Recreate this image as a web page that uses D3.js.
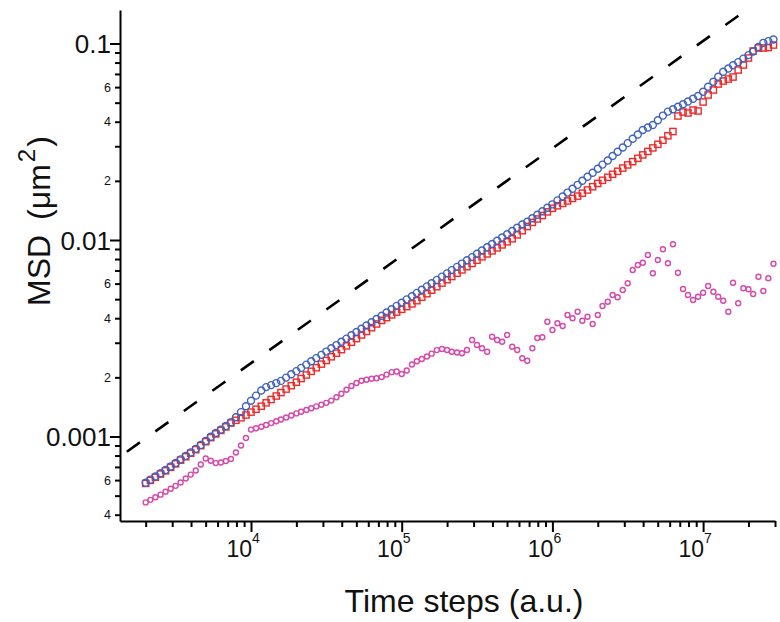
<!DOCTYPE html>
<html><head><meta charset="utf-8">
<script src="https://cdn.jsdelivr.net/npm/d3@7"></script>
<style>
body{margin:0;background:#fff;}
svg text{font-family:Arial,"Liberation Sans",Helvetica,sans-serif;fill:#111;}
</style>
</head><body>
<svg id="chart" width="780" height="622"></svg>
<script>
// ---- data ----
const timeSteps = [
  2000, 2150, 2320, 2510, 2710, 2930, 3160, 3410, 3690, 3980, 4300, 4640, 5010, 5410, 5840, 6310, 6810, 7360, 7940, 8580, 9260,
  1.00e4, 1.08e4, 1.17e4, 1.26e4, 1.36e4, 1.47e4, 1.58e4, 1.71e4, 1.85e4, 2.00e4, 2.15e4, 2.33e4, 2.51e4, 2.71e4, 2.93e4,
  3.16e4, 3.41e4, 3.69e4, 3.98e4, 4.30e4, 4.64e4, 5.01e4, 5.41e4, 5.84e4, 6.31e4, 6.81e4, 7.36e4, 7.94e4, 8.58e4, 9.26e4,
  1.00e5, 1.08e5, 1.17e5, 1.26e5, 1.36e5, 1.47e5, 1.58e5, 1.71e5, 1.85e5, 2.00e5, 2.15e5, 2.33e5, 2.51e5, 2.71e5, 2.93e5,
  3.16e5, 3.41e5, 3.69e5, 3.98e5, 4.30e5, 4.64e5, 5.01e5, 5.41e5, 5.84e5, 6.31e5, 6.81e5, 7.36e5, 7.94e5, 8.58e5, 9.26e5,
  1.00e6, 1.08e6, 1.17e6, 1.26e6, 1.36e6, 1.47e6, 1.58e6, 1.71e6, 1.85e6, 2.00e6, 2.15e6, 2.33e6, 2.51e6, 2.71e6, 2.93e6,
  3.16e6, 3.41e6, 3.69e6, 3.98e6, 4.30e6, 4.64e6, 5.01e6, 5.41e6, 5.84e6, 6.31e6, 6.81e6, 7.36e6, 7.94e6, 8.58e6, 9.26e6,
  1.00e7, 1.08e7, 1.17e7, 1.26e7, 1.36e7, 1.47e7, 1.58e7, 1.71e7, 1.85e7, 2.00e7, 2.15e7, 2.33e7, 2.51e7, 2.71e7, 2.93e7
];
const msdBlue = [
  5.82e-4, 6.03e-4, 6.26e-4, 6.50e-4, 6.75e-4, 7.04e-4, 7.33e-4, 7.65e-4, 7.97e-4, 8.30e-4, 8.65e-4,
  9.06e-4, 9.50e-4, 9.97e-4, 1.041e-3, 1.084e-3, 1.130e-3, 1.183e-3, 1.254e-3, 1.331e-3, 1.425e-3,
  1.519e-3, 1.615e-3, 1.714e-3, 1.784e-3, 1.826e-3, 1.870e-3, 1.919e-3, 1.994e-3, 2.073e-3, 2.151e-3,
  2.234e-3, 2.322e-3, 2.414e-3, 2.506e-3, 2.602e-3, 2.705e-3, 2.811e-3, 2.919e-3, 3.033e-3, 3.149e-3,
  3.273e-3, 3.402e-3, 3.532e-3, 3.672e-3, 3.813e-3, 3.963e-3, 4.119e-3, 4.276e-3, 4.444e-3, 4.620e-3,
  4.796e-3, 4.985e-3, 5.176e-3, 5.380e-3, 5.586e-3, 5.806e-3, 6.027e-3, 6.265e-3, 6.512e-3, 6.761e-3,
  7.028e-3, 7.297e-3, 7.585e-3, 7.884e-3, 8.185e-3, 8.508e-3, 8.843e-3, 9.181e-3, 9.541e-3, 9.906e-3,
  1.030e-2, 1.069e-2, 1.111e-2, 1.155e-2, 1.199e-2, 1.239e-2, 1.291e-2, 1.345e-2, 1.400e-2, 1.459e-2,
  1.519e-2, 1.591e-2, 1.665e-2, 1.743e-2, 1.824e-2, 1.909e-2, 2.001e-2, 2.097e-2, 2.198e-2, 2.303e-2,
  2.419e-2, 2.541e-2, 2.676e-2, 2.811e-2, 2.956e-2, 3.112e-2, 3.273e-2, 3.446e-2, 3.629e-2, 3.737e-2,
  3.848e-2, 4.067e-2, 4.297e-2, 4.503e-2, 4.632e-2, 4.764e-2, 4.911e-2, 5.069e-2, 5.238e-2, 5.406e-2,
  5.685e-2, 6.027e-2, 6.391e-2, 6.776e-2, 7.186e-2, 7.460e-2, 7.745e-2, 8.040e-2, 8.378e-2, 8.730e-2,
  9.106e-2, 9.599e-2, 1.008e-1, 1.028e-1, 1.048e-1
];
const msdRed = [
  5.77e-4, 5.98e-4, 6.20e-4, 6.44e-4, 6.69e-4, 6.97e-4, 7.26e-4, 7.58e-4, 7.89e-4, 8.22e-4, 8.57e-4,
  8.98e-4, 9.41e-4, 9.87e-4, 1.031e-3, 1.074e-3, 1.119e-3, 1.171e-3, 1.209e-3, 1.245e-3, 1.286e-3,
  1.331e-3, 1.377e-3, 1.426e-3, 1.483e-3, 1.543e-3, 1.607e-3, 1.673e-3, 1.743e-3, 1.813e-3, 1.889e-3,
  1.971e-3, 2.056e-3, 2.147e-3, 2.239e-3, 2.336e-3, 2.437e-3, 2.545e-3, 2.654e-3, 2.768e-3, 2.891e-3,
  3.016e-3, 3.149e-3, 3.285e-3, 3.426e-3, 3.578e-3, 3.737e-3, 3.898e-3, 4.028e-3, 4.157e-3, 4.296e-3,
  4.439e-3, 4.582e-3, 4.730e-3, 4.911e-3, 5.116e-3, 5.330e-3, 5.553e-3, 5.785e-3, 6.035e-3, 6.281e-3,
  6.520e-3, 6.776e-3, 7.044e-3, 7.314e-3, 7.602e-3, 7.891e-3, 8.213e-3, 8.498e-3, 8.801e-3, 9.116e-3,
  9.443e-3, 9.790e-3, 1.014e-2, 1.062e-2, 1.115e-2, 1.171e-2, 1.229e-2, 1.279e-2, 1.333e-2, 1.390e-2,
  1.450e-2, 1.493e-2, 1.536e-2, 1.580e-2, 1.627e-2, 1.673e-2, 1.731e-2, 1.797e-2, 1.867e-2, 1.941e-2,
  2.013e-2, 2.085e-2, 2.160e-2, 2.237e-2, 2.323e-2, 2.411e-2, 2.506e-2, 2.605e-2, 2.711e-2, 2.824e-2,
  2.942e-2, 3.069e-2, 3.217e-2, 3.391e-2, 3.566e-2, 4.276e-2, 4.481e-2, 4.429e-2, 4.588e-2, 4.534e-2,
  5.039e-2, 5.470e-2, 5.800e-2, 6.221e-2, 6.443e-2, 6.596e-2, 6.752e-2, 7.331e-2, 7.773e-2, 8.437e-2,
  9.161e-2, 9.487e-2, 9.49e-2, 9.541e-2, 9.824e-2
];
const msdMagenta = [
  4.62e-4, 4.76e-4, 4.91e-4, 5.06e-4, 5.23e-4, 5.42e-4, 5.61e-4, 5.83e-4, 6.11e-4, 6.40e-4, 6.71e-4,
  7.20e-4, 7.73e-4, 7.52e-4, 7.32e-4, 7.37e-4, 7.50e-4, 7.68e-4, 8.29e-4, 9.00e-4, 9.83e-4,
  1.084e-3, 1.102e-3, 1.122e-3, 1.144e-3, 1.170e-3, 1.195e-3, 1.220e-3, 1.249e-3, 1.279e-3, 1.311e-3,
  1.337e-3, 1.364e-3, 1.393e-3, 1.423e-3, 1.451e-3, 1.483e-3, 1.523e-3, 1.583e-3, 1.651e-3, 1.730e-3,
  1.807e-3, 1.872e-3, 1.923e-3, 1.946e-3, 1.966e-3, 1.978e-3, 2.006e-3, 2.065e-3, 2.126e-3, 2.142e-3,
  2.080e-3, 2.167e-3, 2.325e-3, 2.414e-3, 2.480e-3, 2.553e-3, 2.641e-3, 2.752e-3, 2.788e-3, 2.755e-3,
  2.701e-3, 2.676e-3, 2.651e-3, 2.755e-3, 3.098e-3, 2.922e-3, 2.811e-3, 2.701e-3, 3.220e-3, 3.098e-3,
  3.037e-3, 3.285e-3, 2.864e-3, 2.755e-3, 2.500e-3, 2.431e-3, 2.811e-3, 3.171e-3, 3.197e-3, 3.839e-3,
  3.483e-3, 3.768e-3, 3.650e-3, 4.152e-3, 3.995e-3, 4.317e-3, 3.884e-3, 4.070e-3, 3.737e-3, 4.152e-3,
  4.615e-3, 4.853e-3, 5.249e-3, 5.110e-3, 5.566e-3, 6.021e-3, 7.036e-3, 7.460e-3, 7.663e-3, 8.389e-3,
  6.768e-3, 7.910e-3, 8.968e-3, 7.610e-3, 9.508e-3, 6.816e-3, 5.631e-3, 5.249e-3, 4.951e-3, 5.146e-3,
  5.393e-3, 5.834e-3, 5.457e-3, 5.146e-3, 4.911e-3, 4.317e-3, 6.064e-3, 4.763e-3, 5.678e-3, 5.612e-3,
  5.311e-3, 6.505e-3, 5.501e-3, 6.383e-3, 7.575e-3
];
const refLineT = [1.50e3, 1.90e7];
const refLineMSD = [8.37e-4, 0.1464];

const xMajorTicks = [1e4, 1e5, 1e6, 1e7];
const xMajorExponents = ["4", "5", "6", "7"];
const xMinorTicks = [2e3,3e3,4e3,5e3,6e3,7e3,8e3,9e3, 2e4,3e4,4e4,5e4,6e4,7e4,8e4,9e4,
  2e5,3e5,4e5,5e5,6e5,7e5,8e5,9e5, 2e6,3e6,4e6,5e6,6e6,7e6,8e6,9e6, 2e7,3e7];
const yMajorTicks = [0.001, 0.01, 0.1];
const yMajorLabels = ["0.001", "0.01", "0.1"];
const yMinorTicks = [4e-4,5e-4,6e-4,7e-4,8e-4,9e-4, 2e-3,3e-3,4e-3,5e-3,6e-3,7e-3,8e-3,9e-3,
  2e-2,3e-2,4e-2,5e-2,6e-2,7e-2,8e-2,9e-2];
const yMinorLabelTicks = [4e-4, 6e-4, 2e-3, 4e-3, 6e-3, 2e-2, 4e-2, 6e-2];
const yMinorLabels = ["4", "6", "2", "4", "6", "2", "4", "6"];
const xTitle = "Time steps (a.u.)";

// ---- layout ----
const svg = d3.select("#chart");
const X0 = 120, X1 = 775, Y0 = 521, Y1 = 10;
const x = d3.scaleLog().domain([1351, 3e7]).range([X0, X1]);
const y = d3.scaleLog().domain([3.715e-4, 0.1481]).range([Y0, Y1]);

const colBlue = "#3f62bd", colRed = "#ee2a2a", colMag = "#d64aab";

// dashed reference line
svg.append("line")
  .attr("x1", x(refLineT[0])).attr("y1", y(refLineMSD[0]))
  .attr("x2", x(refLineT[1])).attr("y2", y(refLineMSD[1]))
  .attr("stroke", "#000").attr("stroke-width", 2.6)
  .attr("stroke-dasharray", "16,19");

const idx = d3.range(timeSteps.length);

// magenta
svg.append("g").selectAll("circle").data(idx).join("circle")
  .attr("cx", i => x(timeSteps[i])).attr("cy", i => y(msdMagenta[i]))
  .attr("r", 2.5).attr("fill", "none").attr("stroke", colMag).attr("stroke-width", 1.4);

// red squares
const s = 6.2;
svg.append("g").selectAll("rect").data(idx).join("rect")
  .attr("x", i => x(timeSteps[i]) - s/2).attr("y", i => y(msdRed[i]) - s/2)
  .attr("width", s).attr("height", s)
  .attr("fill", "none").attr("stroke", colRed).attr("stroke-width", 1.4);

// blue circles
svg.append("g").selectAll("circle").data(idx).join("circle")
  .attr("cx", i => x(timeSteps[i])).attr("cy", i => y(msdBlue[i]))
  .attr("r", 3.5).attr("fill", "none").attr("stroke", colBlue).attr("stroke-width", 1.4);

// ---- axes ----
function styleAxis(g) {
  g.selectAll(".domain").attr("stroke", "#000").attr("stroke-width", 2);
  g.selectAll(".tick line").attr("stroke", "#000").attr("stroke-width", 2);
  g.selectAll(".tick text").remove();
}
const gxMinor = svg.append("g").attr("transform", `translate(0,${Y0})`)
  .call(d3.axisBottom(x).tickValues(xMinorTicks).tickSize(6).tickSizeOuter(0).tickFormat(() => ""));
styleAxis(gxMinor);
const gxMajor = svg.append("g").attr("transform", `translate(0,${Y0})`)
  .call(d3.axisBottom(x).tickValues(xMajorTicks).tickSize(11).tickSizeOuter(0).tickFormat(() => ""));
styleAxis(gxMajor);
gxMajor.select(".domain").remove();

const gyMinor = svg.append("g").attr("transform", `translate(${X0},0)`)
  .call(d3.axisLeft(y).tickValues(yMinorTicks).tickSize(5).tickSizeOuter(0).tickFormat(() => ""));
styleAxis(gyMinor);
const gyMajor = svg.append("g").attr("transform", `translate(${X0},0)`)
  .call(d3.axisLeft(y).tickValues(yMajorTicks).tickSize(10).tickSizeOuter(0).tickFormat(() => ""));
styleAxis(gyMajor);
gyMajor.select(".domain").remove();

// x major labels 10^n
xMajorTicks.forEach((t, i) => {
  const g = svg.append("g");
  g.append("text").attr("x", x(t) + 1).attr("y", 557).attr("text-anchor", "end")
    .attr("font-size", 23).text("10");
  g.append("text").attr("x", x(t) + 1).attr("y", 543).attr("text-anchor", "start")
    .attr("font-size", 14).text(xMajorExponents[i]);
});

// y major labels
yMajorTicks.forEach((t, i) => {
  svg.append("text").attr("x", X0 - 9).attr("y", y(t) + 9.5).attr("text-anchor", "end")
    .attr("font-size", 26).text(yMajorLabels[i]);
});
// y minor labels
yMinorLabelTicks.forEach((t, i) => {
  svg.append("text").attr("x", X0 - 9).attr("y", y(t) + 4.5).attr("text-anchor", "end")
    .attr("font-size", 12.5).text(yMinorLabels[i]);
});

// titles
svg.append("text").attr("x", 464).attr("y", 612).attr("text-anchor", "middle")
  .attr("font-size", 32).text(xTitle);

const yt = svg.append("text").attr("transform", "translate(50,221) rotate(-90)")
  .attr("text-anchor", "middle").attr("font-size", 32);
yt.append("tspan").text("MSD");
yt.append("tspan").attr("dx", 6).text(" (μm");
yt.append("tspan").attr("font-size", 24).attr("dy", -15).attr("dx", 2).text("2");
yt.append("tspan").attr("dy", 15).attr("dx", 2).text(")");
</script>
</body></html>
